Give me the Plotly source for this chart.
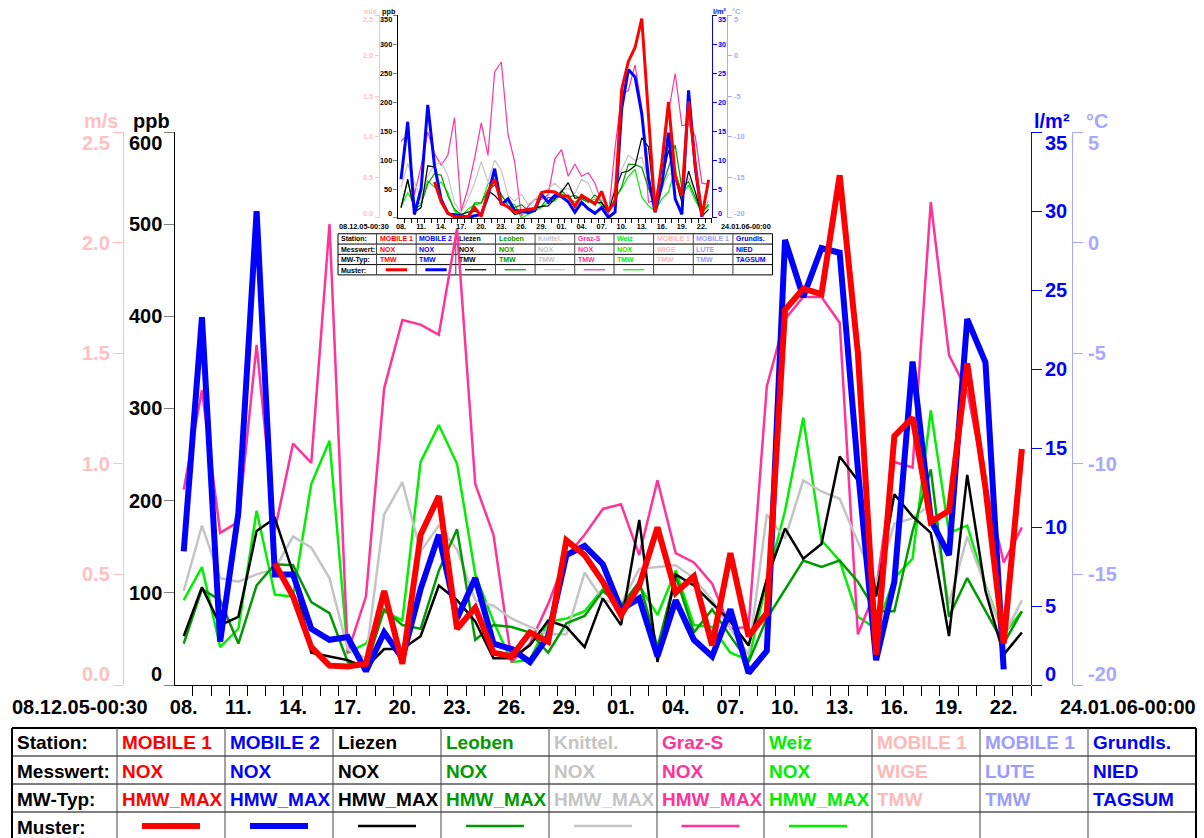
import plotly.graph_objects as go
import pandas as pd

W, H = 1204, 838
FONT = "Liberation Sans, Arial, sans-serif"

# ---------------- data ----------------
dates = list(pd.date_range("2005-12-08 12:00", periods=47, freq="D"))
x_start = "2005-12-08 00:30"
x_end = "2006-01-24 00:00"
day_labels = ["08.", "11.", "14.", "17.", "20.", "23.", "26.", "29.",
              "01.", "04.", "07.", "10.", "13.", "16.", "19.", "22."]
label_dates = dates[::3]
start_label = "08.12.05-00:30"
end_label = "24.01.06-00:00"

ppb_ticks = [0, 100, 200, 300, 400, 500, 600]
ppb_ticks_inset = [0, 50, 100, 150, 200, 250, 300, 350]
ms_ticks = [0.0, 0.5, 1.0, 1.5, 2.0, 2.5]
lm2_ticks = [0, 5, 10, 15, 20, 25, 30, 35]
degc_ticks = [-20, -15, -10, -5, 0, 5]

N = None
# Main chart: NOX HMW_MAX (ppb)
mobile1_hmw = [N, N, N, N, N, 132, 96, 41, 21, 20, 23, 102, 23, 163, 205, 61, 84, 35, 31, 57,
               47, 157, 141, 112, 76, 108, 171, 100, 118, 43, 143, 53, 78, 407, 430, 424, 553, 360,
               33, 270, 290, 177, 189, 349, 214, 45, 256]
mobile2_hmw = [145, 399, 47, 187, 514, 120, 120, 61, 49, 52, 15, 57, 29, 104, 163, 72, 116, 45, 39, 25,
               53, 141, 151, 131, 82, 94, 31, 92, 49, 31, 82, 13, 37, 483, 421, 474, 469, 234, 27, 112,
               351, 179, 141, 397, 350, 17, N]
liezen_hmw = [53, 106, 65, 74, 167, 181, 122, 35, 31, 27, 19, 39, 39, 53, 108, 92, 69, 29, 29, 43,
              70, 63, 41, 94, 65, 179, 25, 120, 108, 88, 69, 43, 115, 170, 137, 153, 248, 222, 96, 207,
              183, 165, 53, 228, 102, 33, 57]
leoben_hmw = [45, 104, 92, 45, 108, 131, 130, 90, 78, 25, 19, 82, 65, 61, 124, 169, 49, 65, 63, 57,
              35, 67, 75, 102, 86, 112, 41, 118, 57, 82, 53, 25, 72, 104, 135, 128, 135, 112, 80, 80,
              167, 234, 74, 116, 80, 45, 80]
knittel_hmw = [102, 173, 116, 112, 120, 126, 161, 149, 116, 39, 29, 185, 220, 145, 173, 147, 92, 86, 72, 63,
               55, 55, 122, 92, 88, 126, 128, 130, 116, 92, 61, 33, 185, 159, 222, 210, 202, 155, 108, 175,
               181, 196, 88, 161, 108, 53, 92]
grazs_hmw = [212, 320, 165, 177, 369, 168, 262, 241, 500, 35, 96, 322, 396, 391, 380, 495, 218, 163, 25, 45,
             88, 139, 163, 191, 196, 141, 222, 143, 133, 110, 61, 63, 324, 397, 421, 421, 393, 55, 104, 242,
             236, 524, 358, 319, 218, 133, 171]
weiz_hmw = [92, 128, 41, 61, 189, 98, 96, 218, 265, 35, 45, 80, 70, 242, 282, 240, 120, 69, 25, 27,
            69, 72, 80, 104, 84, 108, 76, 124, 65, 63, 35, 27, 112, 189, 290, 157, 135, 74, 61, 116,
            137, 298, 165, 173, 108, 55, 80]

# Inset chart: NOX TMW (ppb)
mobile1_tmw = [N, N, N, N, N, 62, 28, 8, 2, 2, 2, 18, 3, 45, 67, 25, 19, 10, 13, 15,
               16, 44, 46, 45, 38, 38, 20, 39, 32, 24, 46, 12, 28, 222, 270, 294, 344, 183, 10, 95,
               200, 72, 39, 201, 93, 3, 66]
mobile2_tmw = [67, 166, 6, 50, 195, 91, 32, 8, 4, 4, 0, 4, 6, 38, 85, 23, 33, 13, 12, 9,
               13, 41, 27, 39, 37, 28, 10, 27, 16, 8, 18, 1, 10, 189, 256, 243, 180, 69, 10, 57,
               147, 33, 6, 220, 87, 2, N]
liezen_tmw = [18, 67, 10, 18, 90, 88, 32, 8, 7, 6, 10, 12, 8, 47, 39, 26, 19, 6, 9, 15,
              16, 20, 21, 33, 45, 61, 34, 36, 30, 27, 26, 10, 48, 78, 81, 90, 138, 123, 12, 63,
              117, 69, 27, 81, 45, 3, 15]
leoben_tmw = [18, 64, 15, 23, 59, 76, 74, 38, 15, 6, 3, 26, 26, 47, 57, 41, 21, 18, 23, 13,
              19, 20, 36, 33, 47, 36, 39, 33, 27, 40, 27, 12, 33, 54, 93, 92, 87, 51, 21, 54,
              87, 126, 51, 63, 36, 9, 24]
knittel_tmw = [53, 94, 62, 32, 73, 91, 97, 73, 26, 9, 32, 60, 97, 62, 100, 82, 39, 29, 41, 23,
               32, 44, 51, 60, 48, 51, 42, 67, 60, 33, 33, 12, 60, 84, 108, 99, 105, 60, 20, 50,
               75, 80, 35, 70, 45, 10, 30]
grazs_tmw = [132, 144, 40, 90, 148, 111, 91, 108, 173, 12, 50, 103, 164, 108, 252, 269, 144, 97, 3, 20,
             32, 32, 40, 102, 118, 72, 93, 72, 78, 60, 27, 3, 120, 213, 220, 264, 189, 27, 30, 87,
             183, 249, 159, 162, 141, 60, 58]
weiz_tmw = [19, 44, 23, 26, 64, 53, 62, 44, 12, 3, 15, 23, 25, 59, 67, 38, 26, 23, 0, 6,
            12, 18, 27, 30, 42, 33, 28, 33, 27, 33, 21, 9, 33, 51, 72, 84, 36, 21, 12, 33,
            45, 84, 39, 57, 30, 9, 21]

# Table texts
row_heads = ["Station:", "Messwert:", "MW-Typ:", "Muster:"]
stations = ["MOBILE 1", "MOBILE 2", "Liezen", "Leoben", "Knittel.", "Graz-S", "Weiz",
            "MOBILE 1", "MOBILE 1", "Grundls."]
messwerte = ["NOX", "NOX", "NOX", "NOX", "NOX", "NOX", "NOX", "WIGE", "LUTE", "NIED"]
mwtyp_main = ["HMW_MAX"] * 7 + ["TMW", "TMW", "TAGSUM"]
mwtyp_inset = ["TMW"] * 9 + ["TAGSUM"]
col_colors = ["#FF0000", "#0000FF", "#000000", "#009A00", "#C4C4C4", "#FF3399", "#00EE00",
              "#FFB8B8", "#9C9CFF", "#0000FF"]

# ---------------- figure ----------------
fig = go.Figure()
layout = {}
annotations = []
shapes = []

col_edges = [12, 117, 225, 333, 441, 549, 657, 764, 872, 980, 1088, 1196]
row_edges = [728, 756, 784, 812, 840]
row_text_y = [742, 771, 799, 827]


def aname(a):
    return a[0] + "axis" + a[1:]


def chart(s, ox, oy, axes, series, ptick, lw_thick, lw_thin, mwtyp, lw_axis):
    X = lambda px: (ox + s * px) / W
    Y = lambda py: 1 - (oy + s * py) / H
    xn, xl, yp, ym, yl, yc = axes
    fs = 20 * s
    tl = 10 * s
    bold = dict(family=FONT, size=fs, weight="bold")

    # axis with day-boundary tick marks
    layout[aname(xn)] = dict(
        domain=[X(175), X(1031)], anchor=yp, type="date", range=[x_start, x_end],
        showline=True, linecolor="black", linewidth=lw_axis, showgrid=False, zeroline=False,
        automargin=False, showticklabels=False,
        tickmode="linear", dtick=86400000, tick0="2005-12-09 00:00",
        ticks="outside", ticklen=tl, tickcolor="black", tickwidth=lw_axis)
    # overlaid axis carrying the day labels
    layout[aname(xl)] = dict(
        overlaying=xn, anchor=yp, side="bottom", type="date", range=[x_start, x_end],
        showline=False, showgrid=False, zeroline=False, automargin=False,
        tickmode="array", tickvals=label_dates, ticktext=day_labels,
        ticks="outside", ticklen=4 * s, tickcolor="rgba(0,0,0,0)",
        tickfont=dict(bold, color="black"))
    common = dict(showgrid=False, zeroline=False, showticklabels=False, ticks="outside",
                  ticklen=tl, tickwidth=lw_axis, showline=True, linewidth=lw_axis, automargin=False)
    layout[aname(yp)] = dict(common, domain=[Y(685), Y(132)], anchor=xn, range=[0, ptick[-1]],
                             tickmode="array", tickvals=ptick, tickcolor="#808080", linecolor="black")
    layout[aname(ym)] = dict(common, overlaying=yp, anchor="free", position=X(123), side="left",
                             range=[0, 2.5], tickmode="array", tickvals=ms_ticks,
                             tickcolor="#FFC0C0", linecolor="#FFC0C0")
    layout[aname(yl)] = dict(common, overlaying=yp, anchor="free", position=X(1031), side="right",
                             range=[0, 35], tickmode="array", tickvals=lm2_ticks,
                             tickcolor="#0000FF", linecolor="#0000FF")
    layout[aname(yc)] = dict(common, overlaying=yp, anchor="free", position=X(1072), side="right",
                             range=[-20, 5], tickmode="array", tickvals=degc_ticks,
                             tickcolor="#A8A8FF", linecolor="#A8A8FF")

    # empty traces so that all axes exist
    for a in (ym, yl, yc):
        fig.add_trace(go.Scatter(x=[], y=[], xaxis=xn, yaxis=a, showlegend=False, hoverinfo="skip"))
    fig.add_trace(go.Scatter(x=[], y=[], xaxis=xl, yaxis=yp, showlegend=False, hoverinfo="skip"))

    # data lines (drawn so that MOBILE 1 ends on top)
    order = [6, 5, 4, 3, 2, 1, 0]
    for i in order:
        w = lw_thick if i < 2 else lw_thin
        fig.add_trace(go.Scatter(x=dates, y=series[i], xaxis=xn, yaxis=yp, mode="lines",
                                 line=dict(color=col_colors[i], width=w), connectgaps=False,
                                 showlegend=False, hoverinfo="skip", name=stations[i]))

    # y tick labels
    def ylabels(ticks, ref, xpx, anchor, color, fmt):
        for k, v in enumerate(ticks):
            sh = 0
            if k == 0:
                sh = 11 * s
            elif k == len(ticks) - 1:
                sh = -11 * s
            annotations.append(dict(x=X(xpx), xref="paper", y=v, yref=ref, yshift=sh,
                                    text=fmt(v), showarrow=False, xanchor=anchor, yanchor="middle",
                                    font=dict(bold, color=color)))
    ylabels(ptick, yp, 164, "right", "black", lambda v: str(v))
    ylabels(ms_ticks, ym, 112, "right", "#FFC0C0", lambda v: f"{v:.1f}")
    ylabels(lm2_ticks, yl, 1043, "left", "#0000FF", lambda v: str(v))
    ylabels(degc_ticks, yc, 1086, "left", "#A8A8FF", lambda v: str(v))

    # axis unit titles
    for txt, xpx, col in (("m/s", 101, "#FFC0C0"), ("ppb", 151, "black"),
                          ("l/m²", 1052, "#0000FF"), ("°C", 1097, "#A8A8FF")):
        annotations.append(dict(x=X(xpx), y=Y(121), xref="paper", yref="paper", text=txt,
                                showarrow=False, xanchor="center", yanchor="middle",
                                font=dict(bold, color=col)))
    # start / end labels
    annotations.append(dict(x=X(10), y=Y(707), xref="paper", yref="paper", text=start_label,
                            showarrow=False, xanchor="left", yanchor="middle",
                            font=dict(bold, color="black")))
    annotations.append(dict(x=X(1198), y=Y(707), xref="paper", yref="paper", text=end_label,
                            showarrow=False, xanchor="right", yanchor="middle",
                            font=dict(bold, color="black")))

    # table grid
    for yy in row_edges:
        outer = yy in (row_edges[0], row_edges[-1])
        shapes.append(dict(type="line", xref="paper", yref="paper", x0=X(col_edges[0]), x1=X(col_edges[-1]),
                           y0=Y(yy), y1=Y(yy), layer="below",
                           line=dict(color="black", width=max(2 * s, 1) if outer else lw_axis)))
    for k, xx in enumerate(col_edges):
        outer = k in (0, len(col_edges) - 1)
        shapes.append(dict(type="line", xref="paper", yref="paper", x0=X(xx), x1=X(xx),
                           y0=Y(row_edges[0]), y1=Y(row_edges[-1]), layer="below",
                           line=dict(color="black" if outer else "#444444",
                                     width=max(2 * s, 1) if outer else lw_axis)))
    tf = 19 * s
    rows = [stations, messwerte, mwtyp]
    for r, head in enumerate(row_heads):
        annotations.append(dict(x=X(col_edges[0] + 3), y=Y(row_text_y[r]), xref="paper", yref="paper",
                                text=head, showarrow=False, xanchor="left", yanchor="middle",
                                font=dict(family=FONT, size=tf, weight="bold", color="black")))
    for r in range(3):
        for c in range(10):
            annotations.append(dict(x=X(col_edges[c + 1] + 3), y=Y(row_text_y[r]), xref="paper",
                                    yref="paper", text=rows[r][c], showarrow=False, xanchor="left",
                                    yanchor="middle",
                                    font=dict(family=FONT, size=tf, weight="bold", color=col_colors[c])))
    for c in range(7):
        cx = (col_edges[c + 1] + col_edges[c + 2]) / 2
        w = lw_thick if c < 2 else lw_thin
        shapes.append(dict(type="line", xref="paper", yref="paper", x0=X(cx - 29), x1=X(cx + 29),
                           y0=Y(826), y1=Y(826), layer="below",
                           line=dict(color=col_colors[c], width=w)))


main_series = [mobile1_hmw, mobile2_hmw, liezen_hmw, leoben_hmw, knittel_hmw, grazs_hmw, weiz_hmw]
inset_series = [mobile1_tmw, mobile2_tmw, liezen_tmw, leoben_tmw, knittel_tmw, grazs_tmw, weiz_tmw]

chart(0.367, 333.6, -33.4, ("x2", "x4", "y5", "y6", "y7", "y8"), inset_series, ppb_ticks_inset,
      3, 1.2, mwtyp_inset, 1)
chart(1.0, 0.0, 0.0, ("x", "x3", "y", "y2", "y3", "y4"), main_series, ppb_ticks,
      6, 2.5, mwtyp_main, 1)

fig.update_layout(
    width=W, height=H, margin=dict(l=0, r=0, t=0, b=0, pad=0, autoexpand=False),
    paper_bgcolor="white", plot_bgcolor="rgba(0,0,0,0)",
    showlegend=False, font=dict(family=FONT),
    annotations=annotations, shapes=shapes, **layout)

fig.write_html("out.html")
